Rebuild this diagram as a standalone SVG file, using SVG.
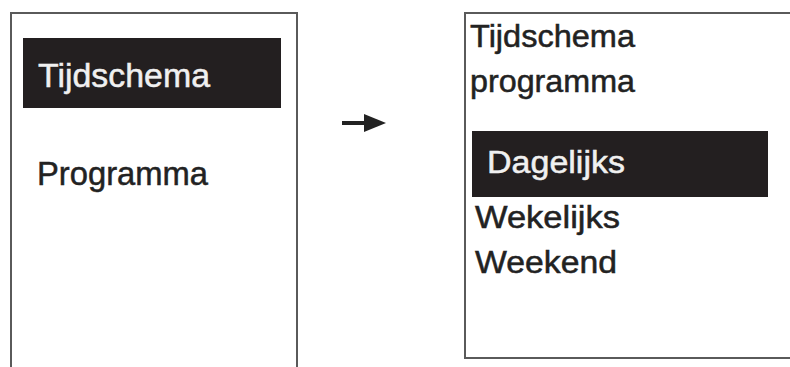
<svg xmlns="http://www.w3.org/2000/svg" width="790" height="367" viewBox="0 0 790 367">
<style>
.frame{fill:#fff;stroke:#5a5a5a;stroke-width:2}
.bar{fill:#231f20}
.t{font-family:"Liberation Sans",Arial,sans-serif;fill:#222;stroke:#222;stroke-width:0.5}
.w{fill:#f0f0f0;stroke:#f0f0f0}
.arrow{stroke:#222;stroke-width:4;fill:none}
.head{fill:#222}
</style>
<rect width="790" height="367" fill="#fff"/>
<g id="screen-left">
<path class="frame" d="M11,375 V13 H297 V375"/>
<rect class="bar" x="23" y="38" width="258" height="70"/>
<text class="t w" x="38" y="87" font-size="34" textLength="172" lengthAdjust="spacingAndGlyphs">Tijdschema</text>
<text class="t" x="37" y="185" font-size="33.5" textLength="171" lengthAdjust="spacingAndGlyphs">Programma</text>
</g>
<g id="screen-right">
<path class="frame" d="M800,13 H465 V358 H800"/>
<text class="t" x="470" y="47" font-size="31" textLength="165" lengthAdjust="spacingAndGlyphs">Tijdschema</text>
<text class="t" x="470" y="92" font-size="31" textLength="165" lengthAdjust="spacingAndGlyphs">programma</text>
<rect class="bar" x="472" y="131" width="296" height="66"/>
<text class="t w" x="487" y="173" font-size="31" textLength="138" lengthAdjust="spacingAndGlyphs">Dagelijks</text>
<text class="t" x="475" y="228" font-size="31" textLength="145" lengthAdjust="spacingAndGlyphs">Wekelijks</text>
<text class="t" x="475" y="273" font-size="31" textLength="142" lengthAdjust="spacingAndGlyphs">Weekend</text>
</g>
<g id="connectors">
<line class="arrow" x1="342" y1="123" x2="366" y2="123"/>
<polygon class="head" points="364,114 386,123 364,132"/>
</g>
</svg>
